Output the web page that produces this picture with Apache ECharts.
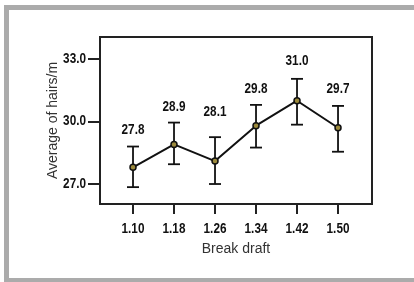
<!DOCTYPE html>
<html>
<head>
<meta charset="utf-8">
<style>
html, body { margin: 0; padding: 0; background: #fff; }
#container { width: 414px; height: 282px; }
</style>
<script src="https://cdn.jsdelivr.net/npm/echarts@6/dist/echarts.min.js"></script>
</head>
<body>
<div id="container"></div>
<script>
// break draft vs hairiness, means with error bars
var drafts = [1.10, 1.18, 1.26, 1.34, 1.42, 1.50];
var means = [27.8, 28.9, 28.1, 29.8, 31.0, 29.7];
var upper = [28.8, 29.95, 29.25, 30.8, 32.05, 30.75];
var lower = [26.85, 27.95, 27.0, 28.75, 29.85, 28.55];
var labelY = [29.6, 30.7, 30.45, 31.55, 32.9, 31.55];
var yTicks = [27, 30, 33];

var textFont = '"Liberation Sans", Arial, sans-serif';

var dom = document.getElementById("container");
var myChart = echarts.init(dom);

var lineData = drafts.map(function (d, i) { return [d, means[i]]; });
var barData = drafts.map(function (d, i) { return [d, lower[i], upper[i]]; });
var labData = drafts.map(function (d, i) { return [d, labelY[i], means[i]]; });
var xLabData = drafts.map(function (d) { return [d, yTicks[0]]; });
var yLabData = yTicks.map(function (v) { return [drafts[0], v]; });

// narrow bold text (no condensed font installed, so squeeze Liberation Sans)
function narrowText(x, y, text, align) {
    return {
        type: 'text',
        x: x,
        y: y,
        scaleX: 0.84,
        style: {
            text: text,
            fontFamily: textFont,
            fontWeight: 'bold',
            fontSize: 14,
            fill: '#111',
            align: align,
            verticalAlign: 'middle'
        }
    };
}

var option = {
    animation: false,
    graphic: [{
        type: 'rect',
        shape: { x: 6.5, y: 7.5, width: 500, height: 273 },
        style: { fill: null, stroke: '#ababab', lineWidth: 5 },
        silent: true
    }],
    grid: {
        left: 100, right: 42, top: 37, bottom: 78,
        show: true,
        borderColor: '#222',
        borderWidth: 2
    },
    xAxis: {
        type: 'value',
        min: 1.0356,
        max: 1.5663,
        name: 'Break draft',
        nameLocation: 'middle',
        nameGap: 38,
        nameMoveOverlap: false,
        nameTextStyle: { fontFamily: textFont, fontSize: 14, color: '#333' },
        axisLine: { show: false },
        splitLine: { show: false },
        axisTick: { show: true, customValues: drafts, length: 10, lineStyle: { color: '#222', width: 2 } },
        axisLabel: { show: false }
    },
    yAxis: {
        type: 'value',
        min: 26.04,
        max: 34.06,
        name: 'Average of hairs/m',
        nameLocation: 'middle',
        nameGap: 40,
        nameMoveOverlap: false,
        nameTextStyle: { fontFamily: textFont, fontSize: 14, color: '#333' },
        axisLine: { show: false },
        splitLine: { show: false },
        axisTick: { show: true, customValues: yTicks, length: 12, lineStyle: { color: '#222', width: 2 } },
        axisLabel: { show: false }
    },
    series: [
        {
            type: 'custom',
            name: 'error',
            data: barData,
            z: 2,
            renderItem: function (params, api) {
                var x = api.value(0);
                var lo = api.coord([x, api.value(1)]);
                var hi = api.coord([x, api.value(2)]);
                var w = 6;
                var st = { stroke: '#111', lineWidth: 1.8 };
                return {
                    type: 'group',
                    children: [
                        { type: 'line', shape: { x1: lo[0], y1: lo[1], x2: hi[0], y2: hi[1] }, style: st },
                        { type: 'line', shape: { x1: lo[0] - w, y1: lo[1], x2: lo[0] + w, y2: lo[1] }, style: st },
                        { type: 'line', shape: { x1: hi[0] - w, y1: hi[1], x2: hi[0] + w, y2: hi[1] }, style: st }
                    ]
                };
            }
        },
        {
            type: 'line',
            name: 'mean',
            data: lineData,
            z: 3,
            symbol: 'circle',
            symbolSize: 6,
            lineStyle: { color: '#111', width: 2 },
            itemStyle: { color: '#9c8a3c', borderColor: '#111', borderWidth: 1.5 }
        },
        {
            type: 'custom',
            name: 'labels',
            data: labData,
            z: 4,
            renderItem: function (params, api) {
                var p = api.coord([api.value(0), api.value(1)]);
                return narrowText(p[0], p[1], api.value(2).toFixed(1), 'center');
            }
        },
        {
            // x tick labels
            type: 'custom',
            name: 'xlabels',
            data: xLabData,
            clip: false,
            renderItem: function (params, api) {
                var cs = params.coordSys;
                var p = api.coord([api.value(0), api.value(1)]);
                return narrowText(p[0], cs.y + cs.height + 25, api.value(0).toFixed(2), 'center');
            }
        },
        {
            // y tick labels
            type: 'custom',
            name: 'ylabels',
            data: yLabData,
            clip: false,
            renderItem: function (params, api) {
                var cs = params.coordSys;
                var p = api.coord([api.value(0), api.value(1)]);
                return narrowText(cs.x - 14, p[1], api.value(1).toFixed(1), 'right');
            }
        }
    ]
};

if (option && typeof option === "object") {
    myChart.setOption(option, true);
}
</script>
</body>
</html>
